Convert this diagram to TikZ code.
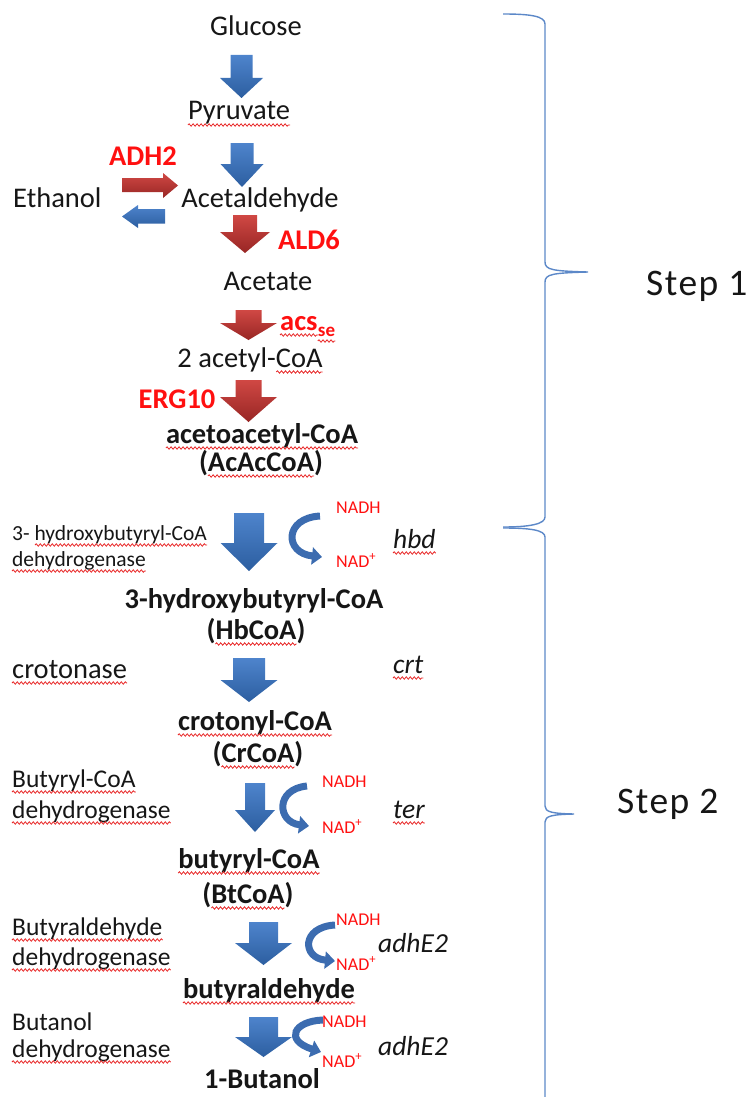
\documentclass[tikz,border=0pt]{standalone}
\usepackage{fontspec}
\setmainfont{Carlito}
\usetikzlibrary{arrows.meta,decorations.pathmorphing}
\definecolor{txt}{RGB}{22,22,22}
\definecolor{redlbl}{RGB}{255,16,16}
\definecolor{sqred}{RGB}{232,40,40}
\definecolor{bluetop}{RGB}{78,132,204}
\definecolor{bluebot}{RGB}{44,94,160}
\definecolor{redtop}{RGB}{208,72,68}
\definecolor{redbot}{RGB}{152,38,36}
\definecolor{curvblue}{RGB}{60,108,176}
\definecolor{bracec}{RGB}{92,136,200}
% block arrow pointing down: style, cx, top, headstart, tip, shaft half, head half
\newcommand\darrow[7]{%
  \shade[#1] (#2-#6,#3) -- (#2+#6,#3) -- (#2+#6,#4) -- (#2+#7,#4) -- (#2,#5)
    -- (#2-#7,#4) -- (#2-#6,#4) -- cycle;}
% wavy spell-check underline under node #1, left inset #2, right inset #3
\newcommand\squ[3]{\draw[squig] ([xshift=#2pt,yshift=-5pt]#1.base west) -- ([xshift=-#3pt,yshift=-5pt]#1.base east);}
\tikzset{
  bluearr/.style={top color=bluetop, bottom color=bluebot},
  redarr/.style={top color=redtop, bottom color=redbot},
  main/.style={inner sep=0pt, text=txt, font=\fontsize{28.5}{30}\selectfont},
  mainb/.style={inner sep=0pt, text=txt, font=\fontsize{28.5}{30}\selectfont\bfseries},
  redb/.style={inner sep=0pt, text=redlbl, font=\fontsize{28.5}{30}\selectfont\bfseries},
  small/.style={inner sep=0pt, text=txt, font=\fontsize{21.5}{24}\selectfont},
  mid/.style={inner sep=0pt, text=txt, font=\fontsize{25.5}{28}\selectfont},
  nad/.style={inner sep=0pt, text=redlbl, font=\fontsize{18}{20}\selectfont},
  gene/.style={inner sep=0pt, text=txt, font=\fontsize{27.5}{30}\selectfont\itshape},
  steplbl/.style={inner sep=0pt, text=txt, font=\fontsize{37.5}{40}\selectfont\addfontfeatures{LetterSpace=4}},
  curv/.style={draw=curvblue, line width=7pt, -{Triangle[width=17pt,length=10pt]}},
  bracestyle/.style={draw=bracec, line width=1.4pt},
  squig/.style={draw=sqred, line width=0.8pt, decorate, decoration={snake, segment length=4pt, amplitude=1.2pt}}
}
\begin{document}
\begin{tikzpicture}[x=1pt,y=-1pt]
\useasboundingbox (0,0) rectangle (753,1097);

% ---------- Step 1 ----------
\node[main, anchor=base] (glu) at (256,36) {Glucose};
\node[main, anchor=base] (pyr) at (239,120) {Pyruvate};
\node[redb, anchor=base] (adh2) at (143,165) {ADH2};
\node[main, anchor=base west] (eth) at (13,207) {Ethanol};
\node[main, anchor=base] (acd) at (260,207) {Acetaldehyde};
\node[redb, anchor=base] (ald6) at (309,249) {ALD6};
\node[main, anchor=base] (ace) at (268,290) {Acetate};
\node[redb, anchor=base west] (acs) at (280,330) {acs};
\node[redb, anchor=base west, font=\fontsize{19}{20}\selectfont\bfseries] (acsse) at ([yshift=-6pt]acs.base east) {se};
\node[main, anchor=base] (acoa) at (250,367) {2 acetyl-CoA};
\node[redb, anchor=base] (erg) at (177,408) {ERG10};
\node[mainb, anchor=base] (aac) at (262,443) {acetoacetyl-CoA};
\node[mainb, anchor=base] (aac2) at (261,471) {(AcAcCoA)};

\darrow{bluearr}{241.5}{55}{78}{98}{11}{21.5}
\darrow{bluearr}{242}{143}{164}{187}{11.5}{21.5}
\darrow{redarr}{245}{215}{232}{253}{12}{25}
\darrow{redarr}{248.5}{310}{323}{340}{13}{28.5}
\darrow{redarr}{248.5}{380}{397}{422}{13}{28.5}
% horizontal arrows
\shade[redarr] (122,178) -- (163,178) -- (163,173) -- (178,185.5) -- (163,198) -- (163,192) -- (122,192) -- cycle;
\shade[bluearr] (165,209) -- (138,209) -- (138,205) -- (122,216.5) -- (138,228) -- (138,223.5) -- (165,223.5) -- cycle;

% ---------- Step 2 ----------
\node[small, anchor=base west] (e1a) at (12,540) {3- hydroxybutyryl-CoA};
\node[small, anchor=base west] (e1b) at (12,566) {dehydrogenase};
\node[nad, anchor=base west] (n1) at (336,513) {NADH};
\node[nad, anchor=base west] (n1p) at (336,567) {NAD\textsuperscript{+}};
\node[gene, anchor=base west] (g1) at (393,548) {hbd};
\node[mainb, anchor=base] (hb) at (254,608) {3-hydroxybutyryl-CoA};
\node[mainb, anchor=base] (hb2) at (256,639) {(HbCoA)};

\node[main, anchor=base west] (e2) at (12,678) {crotonase};
\node[gene, anchor=base west] (g2) at (393,673) {crt};
\node[mainb, anchor=base] (cr) at (255,730) {crotonyl-CoA};
\node[mainb, anchor=base] (cr2) at (258,762) {(CrCoA)};

\node[mid, anchor=base west] (e3a) at (12,787) {Butyryl-CoA};
\node[mid, anchor=base west] (e3b) at (12,818) {dehydrogenase};
\node[nad, anchor=base west] (n2) at (322,787) {NADH};
\node[nad, anchor=base west] (n2p) at (322,833) {NAD\textsuperscript{+}};
\node[gene, anchor=base west] (g3) at (393,818) {ter};
\node[mainb, anchor=base] (bt) at (249,868) {butyryl-CoA};
\node[mainb, anchor=base] (bt2) at (248,903) {(BtCoA)};

\node[mid, anchor=base west] (e4a) at (12,935) {Butyraldehyde};
\node[mid, anchor=base west] (e4b) at (12,965) {dehydrogenase};
\node[nad, anchor=base west] (n3) at (336,925) {NADH};
\node[nad, anchor=base west] (n3p) at (336,970) {NAD\textsuperscript{+}};
\node[gene, anchor=base west] (g4) at (378,952) {adhE2};
\node[mainb, anchor=base] (bal) at (269,998) {butyraldehyde};

\node[mid, anchor=base west] (e5a) at (12,1030) {Butanol};
\node[mid, anchor=base west] (e5b) at (12,1057) {dehydrogenase};
\node[nad, anchor=base west] (n4) at (322,1027) {NADH};
\node[nad, anchor=base west] (n4p) at (322,1067) {NAD\textsuperscript{+}};
\node[gene, anchor=base west] (g5) at (378,1055) {adhE2};
\node[mainb, anchor=base] (but) at (262,1088) {1-Butanol};

% spell-check underlines
\squ{pyr}{0}{0}
\squ{acs}{0}{0}
\squ{acsse}{0}{0}
\squ{acoa}{99}{0}
\squ{aac}{0}{0}
\squ{aac2}{9}{9}
\squ{e1a}{23}{0}
\squ{e1b}{0}{0}
\squ{g1}{0}{0}
\squ{hb2}{9}{9}
\squ{e2}{0}{0}
\squ{g2}{0}{0}
\squ{cr}{0}{0}
\squ{cr2}{9}{9}
\squ{e3a}{0}{0}
\squ{e3b}{0}{0}
\squ{g3}{0}{0}
\squ{bt}{0}{0}
\squ{bt2}{9}{9}
\squ{e4a}{0}{0}
\squ{e4b}{0}{0}
\squ{bal}{0}{0}
\squ{e5b}{0}{0}

\darrow{bluearr}{249}{513}{543}{571}{15}{28.5}
\darrow{bluearr}{249}{658}{680}{702}{16}{28.5}
\darrow{bluearr}{255}{783}{810}{832}{10}{20}
\darrow{bluearr}{263.5}{922}{943}{965}{14.5}{28.5}
\darrow{bluearr}{263.5}{1017}{1037}{1057}{14.5}{28.5}

% curved cofactor arrows
\draw[curv] (320,516) .. controls (284,518) and (284,553) .. (322,557);
\draw[curv] (307,786) .. controls (275,789) and (277,822) .. (309,826);
\draw[curv] (335,925) .. controls (301,927) and (302,958) .. (335,961);
\draw[curv] (323,1020) .. controls (294,1021) and (284,1040) .. (321,1052);

% ---------- braces ----------
\draw[bracestyle] (503,14) .. controls (530,14) and (545,16) .. (545,24) -- (545,262)
  .. controls (545,270) and (553,271) .. (588,272)
  .. controls (553,273) and (545,274) .. (545,282) -- (545,517)
  .. controls (545,524) and (530,527) .. (503,527);
\draw[bracestyle] (503,528) .. controls (530,528) and (545,530) .. (545,537) -- (545,806)
  .. controls (545,812) and (552,813.5) .. (574,814)
  .. controls (552,814.5) and (545,816) .. (545,822) -- (545,1097);
\node[steplbl, anchor=base west] (s1) at (646,295) {Step 1};
\node[steplbl, anchor=base west] (s2) at (617,813) {Step 2};
\end{tikzpicture}
\end{document}
